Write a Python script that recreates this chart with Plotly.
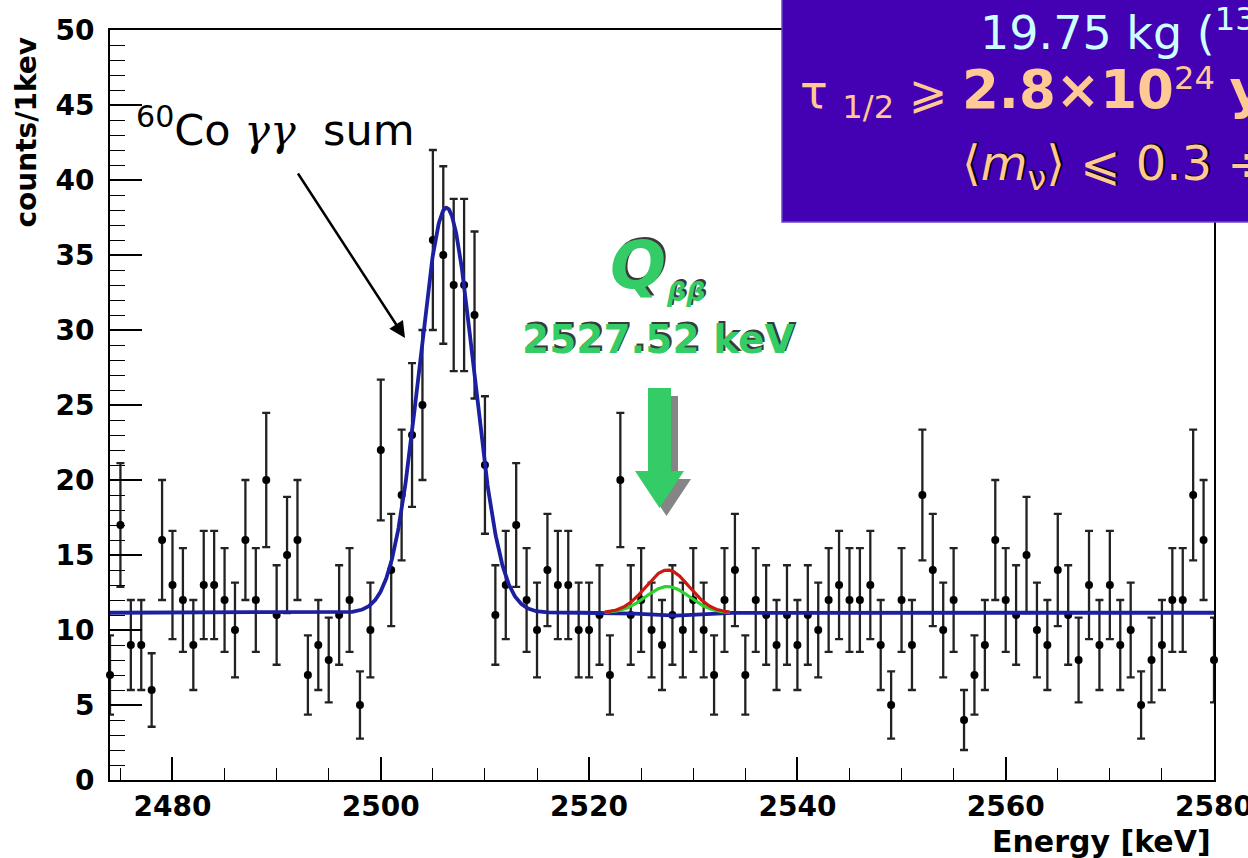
import numpy as np
import plotly.graph_objects as go

# ---------------- data ----------------
energy_start = 2474  # keV, 1 keV bins
counts = [7, 17, 9, 9, 6, 16, 13, 12, 9, 13,
          13, 12, 10, 16, 12, 20, 11, 15, 16, 7,
          9, 8, 11, 12, 5, 10, 22, 14, 19, 23,
          25, 36, 35, 33, 33, 31, 21, 11, 13, 17,
          12, 10, 14, 13, 13, 10, 10, 11, 7, 20,
          11, 12, 10, 9, 11, 10, 12, 10, 7, 12,
          14, 7, 12, 11, 9, 11, 9, 11, 10, 12,
          13, 12, 12, 13, 9, 5, 12, 9, 19, 14,
          10, 12, 4, 7, 9, 16, 12, 11, 15, 10,
          9, 14, 11, 8, 13, 9, 13, 9, 10, 5,
          8, 9, 12, 12, 19, 16, 8]
energies = [energy_start + i for i in range(len(counts))]
errors = [float(np.sqrt(c)) for c in counts]

# fit parameters
baseline = 11.15
co_mean, co_sigma, co_amp = 2506.3, 2.6, 27.0
q_value = 2527.52
best_amp = -0.2          # blue best fit (slightly negative)
limit_amp_red = 2.85     # red curve
limit_amp_green = 1.75   # green curve
sig_q = 2.1
q_lo, q_hi = 2521.5, 2533.5

x_tick_vals = [2480, 2500, 2520, 2540, 2560, 2580]
y_tick_vals = [0, 5, 10, 15, 20, 25, 30, 35, 40, 45, 50]

# ---------------- model curves ----------------
def gauss(e, a, m, s):
    return a * np.exp(-0.5 * ((e - m) / s) ** 2)

e_full = np.linspace(2474, 2580, 2121)
blue = baseline + gauss(e_full, co_amp, co_mean, co_sigma) + gauss(e_full, best_amp, q_value, sig_q)
e_q = np.linspace(q_lo, q_hi, 241)
red = baseline + gauss(e_q, limit_amp_red, q_value, sig_q)
green = baseline + gauss(e_q, limit_amp_green, q_value, sig_q)

fig = go.Figure()
fig.add_trace(go.Scatter(
    x=energies, y=counts, mode="markers",
    marker=dict(color="black", size=8),
    error_y=dict(type="data", array=errors, color="#222222", thickness=2.3, width=4),
    cliponaxis=False, showlegend=False))
fig.add_trace(go.Scatter(x=e_full, y=blue, mode="lines",
                         line=dict(color="#1b1fa0", width=3.8), showlegend=False))
fig.add_trace(go.Scatter(x=e_q, y=green, mode="lines",
                         line=dict(color="#2ed12e", width=3.2), showlegend=False))
fig.add_trace(go.Scatter(x=e_q, y=red, mode="lines",
                         line=dict(color="#cc1a10", width=3.2), showlegend=False))

# ---------------- layout helpers ----------------
L, R, T, B = 110, 1214, 30, 780
W, H = 1248, 858

def px(xp):
    return (xp - L) / (R - L)

def py(yp):
    return (B - yp) / (B - T)

fig.update_layout(
    width=W, height=H,
    margin=dict(l=L, r=W - R, t=T, b=H - B, autoexpand=False),
    paper_bgcolor="white", plot_bgcolor="white",
    xaxis=dict(range=[2474, 2580], tickvals=x_tick_vals, ticks="inside", ticklen=23,
               tickwidth=1.5, tickcolor="black", showline=True, linecolor="black",
               linewidth=2, mirror=True, showgrid=False, zeroline=False, automargin=False,
               tickfont=dict(family="DejaVu Sans", size=28, color="black", weight="bold"),
               ticklabelstandoff=0, ticklabeloverflow="allow",
               minor=dict(dtick=5, tick0=2480, ticks="inside", ticklen=12,
                          tickcolor="black", tickwidth=1.2, showgrid=False)),
    yaxis=dict(range=[0, 50], tickvals=y_tick_vals, ticks="inside", ticklen=32,
               tickwidth=1.5, tickcolor="black", showline=True, linecolor="black",
               linewidth=2, mirror=True, showgrid=False, zeroline=False, automargin=False,
               tickfont=dict(family="DejaVu Sans", size=28, color="black", weight="bold"),
               ticklabelstandoff=8, ticklabeloverflow="allow",
               minor=dict(dtick=1, tick0=0, ticks="inside", ticklen=15,
                          tickcolor="black", tickwidth=1.2, showgrid=False)),
)

ann = []
# axis titles
ann.append(dict(text="<b>counts/1kev</b>", xref="paper", yref="paper", x=px(26), y=py(35),
                xanchor="center", yanchor="top", textangle=-90, showarrow=False,
                font=dict(family="DejaVu Sans", size=28, color="black")))
ann.append(dict(text="<b>Energy [keV]</b>", xref="paper", yref="paper", x=px(1213), y=py(841),
                xanchor="right", yanchor="middle", showarrow=False,
                font=dict(family="DejaVu Sans", size=30, color="black")))

# 60Co label and arrow
ann.append(dict(text="<sup>60</sup>Co <span style='font-family:DejaVu Serif'><i>γγ</i></span>  sum",
                xref="paper", yref="paper", x=px(134), y=py(127), xanchor="left", yanchor="middle",
                showarrow=False, font=dict(family="DejaVu Sans", size=43, color="black")))
ann.append(dict(text="", x=energy_start + (405 - L) / 10.415, y=(B - 338) / 15.0,
                xref="x", yref="y", ax=297 - 405, ay=172 - 338, showarrow=True,
                arrowhead=2, arrowsize=1.3, arrowwidth=2.5, arrowcolor="black"))

# Q label with shadow
qgreen = "#33cc66"
shadow = "#3a3a3a"
for col, dx in ((shadow, 2), (qgreen, 0)):
    ann.append(dict(text="<b><i>Q</i></b>", xref="paper", yref="paper", x=px(638 + dx), y=py(265 - dx),
                    xanchor="center", yanchor="middle", showarrow=False,
                    font=dict(family="DejaVu Sans", size=66, color=col)))
    ann.append(dict(text="<b><i>ββ</i></b>", xref="paper", yref="paper", x=px(686 + dx), y=py(291 - dx),
                    xanchor="center", yanchor="middle", showarrow=False,
                    font=dict(family="DejaVu Sans", size=27, color=col)))
    ann.append(dict(text="<b>2527.52 keV</b>", xref="paper", yref="paper", x=px(658 + dx), y=py(339 - dx),
                    xanchor="center", yanchor="middle", showarrow=False,
                    font=dict(family="DejaVu Sans", size=39, color=col)))

# purple info box text
peach = "#ffc994"
ann.append(dict(text="19.75 kg (<sup>130</sup>Te) × yr", xref="paper", yref="paper",
                x=px(978), y=py(30), xanchor="left", yanchor="middle", showarrow=False,
                font=dict(family="DejaVu Sans", size=46, color="#ccffff")))
ann.append(dict(text="τ <sub>1/2</sub> ⩾ <b><span style='font-size:53px'>2.8×10</span></b><sup>24</sup> "
                     "<b><span style='font-size:53px'>years</span></b>",
                xref="paper", yref="paper",
                x=px(798), y=py(93), xanchor="left", yanchor="middle", showarrow=False,
                font=dict(family="DejaVu Sans", size=46, color=peach)))
for col, dx in (("black", 2), (peach, 0)):
    ann.append(dict(text="⟨<i>m</i><sub>ν</sub>⟩ ⩽ 0.3 ÷ 0.7 eV", xref="paper", yref="paper",
                    x=px(960 + dx), y=py(167 - dx), xanchor="left", yanchor="middle", showarrow=False,
                    font=dict(family="DejaVu Sans", size=48, color=col)))

# shapes: purple box and green arrow with shadow
def path(points):
    s = "M " + " L ".join(f"{px(a):.5f},{py(b):.5f}" for a, b in points) + " Z"
    return s

arrow_pts = [(648, 388), (671, 388), (671, 471), (684, 471), (659.5, 508), (635, 471), (648, 471)]
shadow_pts = [(a + 7, b + 8) for a, b in arrow_pts]

shapes = [
    dict(type="path", path=path(shadow_pts), xref="paper", yref="paper",
         fillcolor="#858585", line=dict(width=0), layer="above"),
    dict(type="path", path=path(arrow_pts), xref="paper", yref="paper",
         fillcolor=qgreen, line=dict(width=0), layer="above"),
    dict(type="rect", xref="paper", yref="paper", x0=px(782), x1=px(1270), y0=py(222), y1=py(-10),
         fillcolor="#4400b3", line=dict(color="#6b45cf", width=1.5), layer="above"),
]
fig.update_layout(shapes=shapes, annotations=ann)

fig.write_html("out.html")
